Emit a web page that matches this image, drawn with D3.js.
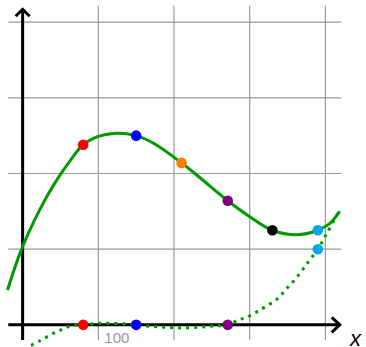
<!DOCTYPE html>
<html>
<head>
<meta charset="utf-8">
<script src="https://cdn.jsdelivr.net/npm/d3@7"></script>
<style>
  body { margin: 0; background: #fff; }
  svg { display: block; }
</style>
</head>
<body>
<svg width="366" height="347"></svg>
<script>
const svg = d3.select('svg');

// grid ticks and the one label shown on the x axis
const gridTicks = [100, 200, 300, 400];
const tickLabels = [{ value: 100, text: '100' }];

// solid curve
const curveX = [-20, -1, 22, 41, 65, 80, 100, 120, 150, 173, 210, 230, 248, 271, 300, 330, 362, 390, 406, 419];
const curveY = [46, 101, 151, 185, 220, 238, 249, 253, 250, 240, 214, 198, 183, 164, 143, 125, 119, 125, 134, 150];

// dotted curve
const dotX = [11, 23, 41, 52, 63, 80, 98, 119, 142, 150, 164, 186, 208, 234, 252, 271, 285, 296, 314, 336, 349, 364, 378, 390, 402, 419];
const dotY = [-27, -21, -11, -6, -1.5, 0, 2, 2, 1, 0, -1.5, -3, -4, -3, -1.5, 0, 6.5, 10, 20, 34, 48, 65, 84, 100, 121, 152];

// highlighted points
const pointsX = [80, 150, 210, 271, 330, 390];
const pointsY = [238, 250, 214, 164, 125, 125];
const pointColors = ['#ff0000', '#0000ff', '#ff8000', '#800080', '#000000', '#00a8e8'];
const zeroX = [80, 150, 271];
const zeroColors = ['#ff0000', '#0000ff', '#800080'];
const cyanDot = { x: 390, y: 100, color: '#00a8e8' };

const x = d3.scaleLinear().domain([-20, 420]).range([7.5, 340.5]);
const y = d3.scaleLinear().domain([-20, 420]).range([340, 7]);

// grid
svg.append('g')
  .selectAll('line')
  .data(gridTicks)
  .enter()
  .append('line')
  .attr('x1', (d) => x(d))
  .attr('x2', (d) => x(d))
  .attr('y1', y(-20))
  .attr('y2', y(422))
  .attr('stroke', '#999')
  .attr('stroke-width', 1.2);

svg.append('g')
  .selectAll('line')
  .data(gridTicks)
  .enter()
  .append('line')
  .attr('y1', (d) => y(d))
  .attr('y2', (d) => y(d))
  .attr('x1', x(-19))
  .attr('x2', x(421))
  .attr('stroke', '#999')
  .attr('stroke-width', 1.2);

svg.selectAll('.tick-label')
  .data(tickLabels)
  .enter()
  .append('text')
  .attr('x', (d) => x(d.value) + 6)
  .attr('y', y(0) + 18)
  .attr('fill', '#999')
  .attr('font-family', 'Liberation Sans, Arial, sans-serif')
  .attr('font-size', 15)
  .text((d) => d.text);

// axes with arrow heads
const axes = svg.append('g')
  .attr('stroke', '#000')
  .attr('stroke-width', 3)
  .attr('fill', 'none');

axes.append('line')
  .attr('x1', x(-19)).attr('x2', x(419))
  .attr('y1', y(0)).attr('y2', y(0));
axes.append('path')
  .attr('d', `M${x(419) - 8},${y(0) - 7.5}L${x(419)},${y(0)}L${x(419) - 8},${y(0) + 7.5}`);

axes.append('line')
  .attr('x1', x(0)).attr('x2', x(0))
  .attr('y1', y(-20)).attr('y2', y(417));
axes.append('path')
  .attr('d', `M${x(0) - 7},${y(417) + 7}L${x(0)},${y(417)}L${x(0) + 7},${y(417) + 7}`);

svg.append('text')
  .attr('x', 350)
  .attr('y', 346)
  .attr('font-family', 'Liberation Sans, Arial, sans-serif')
  .attr('font-style', 'italic')
  .attr('font-size', 22)
  .attr('fill', '#000')
  .text('x');

// curves
const line = d3.line()
  .x((d) => x(d[0]))
  .y((d) => y(d[1]))
  .curve(d3.curveCatmullRom.alpha(0.5));

svg.append('path')
  .datum(dotX.map((d, i) => [d, dotY[i]]))
  .attr('d', line)
  .attr('fill', 'none')
  .attr('stroke', '#009900')
  .attr('stroke-width', 3)
  .attr('stroke-dasharray', '3,5');

svg.append('path')
  .datum(curveX.map((d, i) => [d, curveY[i]]))
  .attr('d', line)
  .attr('fill', 'none')
  .attr('stroke', '#009900')
  .attr('stroke-width', 3);

// markers
svg.selectAll('.pt')
  .data(pointsX)
  .enter()
  .append('circle')
  .attr('cx', (d) => x(d))
  .attr('cy', (d, i) => y(pointsY[i]))
  .attr('r', 5.3)
  .attr('fill', (d, i) => pointColors[i]);

svg.selectAll('.zero')
  .data(zeroX)
  .enter()
  .append('circle')
  .attr('cx', (d) => x(d))
  .attr('cy', y(0))
  .attr('r', 5.3)
  .attr('fill', (d, i) => zeroColors[i]);

svg.append('circle')
  .attr('cx', x(cyanDot.x))
  .attr('cy', y(cyanDot.y))
  .attr('r', 5.3)
  .attr('fill', cyanDot.color);
</script>
</body>
</html>
